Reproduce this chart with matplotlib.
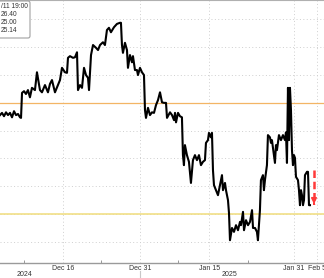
import matplotlib.pyplot as plt
from matplotlib.patches import FancyBboxPatch

# trading-day index, Dec 16 2024 = 0 (weekends / holidays removed)
t = [-8.18, -7.92, -7.66, -7.40, -7.14, -6.88, -6.62, -6.36, -6.10, -5.84,
     -5.58, -5.45, -5.32, -5.06, -4.81, -4.55, -4.29, -4.03, -3.64, -3.38,
     -2.99, -2.73, -2.34, -1.95, -1.69, -1.43, -1.04, -0.65, -0.39, -0.13,
     0.26, 0.52, 0.65, 0.91, 1.30, 1.56, 1.82, 1.95, 2.21, 2.47,
     2.73, 2.99, 3.25, 3.38, 3.64, 3.90, 4.29, 4.55, 4.81, 5.19,
     5.45, 5.71, 5.97, 6.23, 6.62, 7.01, 7.40, 7.53, 7.66, 7.79,
     8.05, 8.31, 8.44, 8.70, 8.96, 9.09, 9.35, 9.61, 9.74, 10.00,
     10.26, 10.52, 10.65, 10.78, 11.04, 11.30, 11.56, 11.82, 12.08, 12.34,
     12.60, 12.86, 13.12, 13.38, 13.51, 13.90, 14.16, 14.42, 14.55, 14.68,
     14.94, 15.19, 15.45, 15.58, 15.71, 15.84, 16.10, 16.36, 16.62, 16.88,
     17.14, 17.40, 17.66, 17.92, 18.18, 18.44, 18.57, 18.83, 18.96, 19.22,
     19.35, 19.48, 19.61, 19.87, 20.13, 20.39, 20.65, 20.78, 21.04, 21.17,
     21.43, 21.56, 21.69, 21.95, 22.21, 22.47, 22.73, 22.99, 23.12, 23.38,
     23.51, 23.77, 24.03, 24.29, 24.55, 24.68, 24.94, 25.19, 25.32, 25.58,
     25.71, 25.97, 26.10, 26.23, 26.49, 26.62, 26.88, 27.01, 27.14, 27.27,
     27.53, 27.66, 27.79, 28.05, 28.31, 28.57, 28.83, 28.96, 29.09, 29.22,
     29.35, 29.48, 29.61, 29.74, 29.87, 30.00, 30.13, 30.26, 30.52, 30.65,
     30.78, 30.91, 31.04, 31.17, 31.30, 31.43, 31.69, 31.82, 31.95, 32.08]

price = [25.78, 25.82, 25.76, 25.83, 25.78, 25.82, 25.74, 25.85, 25.78, 25.80,
         25.74, 25.73, 26.18, 26.21, 26.16, 26.23, 26.10, 26.27, 26.23, 26.55,
         26.23, 26.19, 26.32, 26.19, 26.34, 26.41, 26.19, 26.32, 26.41, 26.63,
         26.55, 26.54, 26.81, 26.84, 26.81, 26.82, 26.91, 26.23, 26.32, 26.27,
         26.63, 26.50, 26.45, 26.23, 26.86, 27.04, 26.99, 26.95, 27.04, 27.09,
         27.04, 27.31, 27.35, 27.27, 27.36, 27.42, 27.44, 27.44, 27.04, 26.90,
         27.08, 26.95, 26.63, 26.86, 26.73, 26.84, 26.59, 26.59, 26.50, 26.63,
         26.55, 26.50, 25.87, 25.73, 25.91, 25.78, 25.83, 25.82, 25.96, 26.05,
         26.19, 26.01, 26.00, 26.00, 25.73, 25.83, 25.78, 25.69, 25.82, 25.65,
         25.82, 25.76, 25.74, 25.06, 24.88, 25.24, 25.06, 24.94, 24.56, 24.97,
         25.06, 24.97, 25.06, 24.88, 24.94, 24.97, 25.28, 25.33, 25.46, 25.38,
         25.46, 24.79, 24.52, 24.43, 24.34, 24.52, 24.70, 24.43, 24.56, 24.43,
         24.25, 24.02, 23.53, 23.75, 23.68, 23.80, 23.71, 23.86, 23.80, 24.04,
         23.71, 23.89, 23.80, 23.86, 24.07, 23.75, 23.75, 23.68, 23.53, 24.07,
         24.61, 24.70, 24.43, 24.61, 24.88, 25.42, 25.38, 25.28, 25.33, 25.19,
         24.92, 25.24, 25.15, 25.42, 25.33, 25.42, 25.33, 25.47, 24.92, 26.27,
         25.33, 26.27, 25.87, 25.15, 24.88, 25.06, 25.01, 24.67, 24.61, 24.43,
         24.16, 24.43, 24.34, 24.16, 24.25, 24.70, 24.76, 24.76, 24.16, 24.16]

tick_pos = [0, 10, 19, 30, 33]
tick_labels = ['Dec 16', 'Dec 31', 'Jan 15', 'Jan 31', 'Feb 5']
minor_pos = [-5, 5, 15, 24]
year_pos = [-5, 21.6]
year_labels = ['2024', '2025']
grid_levels = [23.5, 24.0, 24.5, 25.0, 25.5, 26.0, 26.5, 27.0, 27.5]
resistance = 26.0
support = 24.0
arrow_t = 32.6
arrow_from, arrow_to = 24.79, 24.13
legend_lines = ['/11 19:00', '26.40', '25.00', '25.14']

fig = plt.figure(figsize=(3.24, 2.78), dpi=100)
ax = fig.add_axes([0, 15 / 278, 1, 263 / 278])

ax.set_xlim(-8.18, 33.9)
ax.set_ylim(23.12, 27.85)

for g in grid_levels:
    ax.axhline(g, color='#cfcfcf', lw=0.7, ls=(0, (1, 2.5)), zorder=0)
for p in tick_pos:
    ax.axvline(p, color='#cfcfcf', lw=0.7, ls=(0, (1, 2.5)), zorder=0)

ax.axhline(resistance, color='#f3b565', lw=0.9, zorder=1)
ax.axhline(support, color='#f1df86', lw=1.2, zorder=1)

ax.plot(t, price, color='black', lw=1.5, zorder=3)

# red dashed arrow
ax.plot([arrow_t, arrow_t], [arrow_from, arrow_to + 0.06], color='#ff3b3b',
        lw=1.8, ls=(0, (3, 1.5)), zorder=4)
ax.annotate('', xy=(arrow_t, arrow_to), xytext=(arrow_t, arrow_to + 0.1),
            arrowprops=dict(arrowstyle='-|>', color='#ff3b3b', lw=1.2,
                            mutation_scale=8), zorder=4)

for s in ['left', 'right']:
    ax.spines[s].set_visible(False)
ax.spines['top'].set_color('#b0b0b0')
ax.spines['bottom'].set_color('#9a9a9a')
ax.spines['bottom'].set_linewidth(1.0)

ax.set_yticks([])
ax.set_xticks(tick_pos)
ax.set_xticklabels(tick_labels, fontsize=5, family='Liberation Sans', color='#333333')
ax.set_xticks(minor_pos, minor=True)
ax.tick_params(axis='x', which='major', length=0, pad=1.5)
ax.tick_params(axis='x', which='minor', length=2, direction='in', color='#888888')

for p, lab in zip(year_pos, year_labels):
    ax.text(p, -0.043, lab, transform=ax.get_xaxis_transform(), ha='center',
            va='center', fontsize=5, family='Liberation Sans', color='#333333')
ax.plot([10, 10], [-0.03, -0.06], transform=ax.get_xaxis_transform(),
        color='#c8c8c8', lw=0.8, clip_on=False)

# cut-off info box at top left
box = FancyBboxPatch((-2, 240), 32, 37, boxstyle='round,pad=0,rounding_size=2',
                     transform=None, facecolor='white', edgecolor='#a0a0a0',
                     lw=0.8, zorder=5)
fig.patches.append(box)
for i, s in enumerate(legend_lines):
    fig.text(1 / 324, 1 - (7 + 8 * i) / 278, s, fontsize=4.8,
             family='Liberation Sans', color='#333333', va='center', zorder=6)

fig.savefig('out.png', dpi=100)
